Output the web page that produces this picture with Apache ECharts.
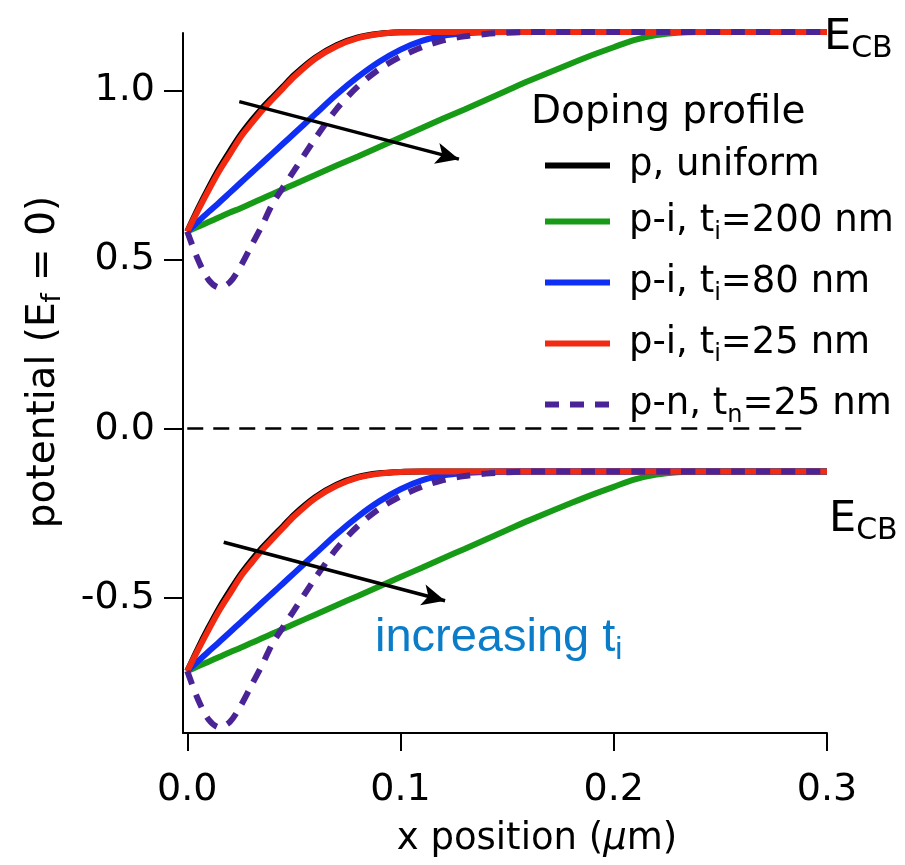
<!DOCTYPE html>
<html><head><meta charset="utf-8">
<script src="https://cdn.jsdelivr.net/npm/echarts@6/dist/echarts.min.js"></script>
<style>html,body{margin:0;padding:0;background:#fff}#c{width:905px;height:865px}</style>
</head><body><div id="c"></div>
<script>
// ---- data (x in µm, potential in eV) ----
const xPos = [0, 0.005, 0.01, 0.015, 0.02, 0.025, 0.03, 0.035, 0.04, 0.045, 0.05, 0.06, 0.07, 0.08, 0.09, 0.10,
              0.11, 0.12, 0.13, 0.14, 0.15, 0.16, 0.18, 0.19, 0.20, 0.21, 0.22, 0.23, 0.24, 0.26, 0.30];

const seriesNames = ['p, uniform', 'p-i, t_i=200 nm', 'p-i, t_i=80 nm', 'p-i, t_i=25 nm', 'p-n, t_n=25 nm'];

// upper family
const cbUniform = [0.583, 0.650, 0.712, 0.770, 0.821, 0.869, 0.910, 0.947, 0.980, 1.012, 1.045, 1.097, 1.134, 1.157, 1.168, 1.172,
                   1.173, 1.173, 1.173, 1.173, 1.173, 1.173, 1.173, 1.173, 1.173, 1.173, 1.173, 1.173, 1.173, 1.173, 1.173];
const cbPi200 = [0.583, 0.597, 0.611, 0.625, 0.639, 0.652, 0.666, 0.680, 0.694, 0.708, 0.722, 0.750, 0.778, 0.805, 0.833, 0.861,
                 0.889, 0.917, 0.944, 0.972, 1.000, 1.028, 1.080, 1.105, 1.128, 1.150, 1.164, 1.171, 1.173, 1.173, 1.173];
const cbPi80 = [0.583, 0.612, 0.641, 0.669, 0.698, 0.727, 0.756, 0.785, 0.814, 0.843, 0.872, 0.930, 0.988, 1.040, 1.085, 1.121,
                1.147, 1.162, 1.169, 1.172, 1.173, 1.173, 1.173, 1.173, 1.173, 1.173, 1.173, 1.173, 1.173, 1.173, 1.173];
const cbPi25 = [0.583, 0.645, 0.705, 0.762, 0.812, 0.862, 0.902, 0.940, 0.974, 1.007, 1.040, 1.094, 1.131, 1.155, 1.167, 1.172,
                1.173, 1.173, 1.173, 1.173, 1.173, 1.173, 1.173, 1.173, 1.173, 1.173, 1.173, 1.173, 1.173, 1.173, 1.173];
const cbPn25 = [0.583, 0.500, 0.440, 0.417, 0.433, 0.480, 0.540, 0.600, 0.665, 0.714, 0.762, 0.858, 0.945, 1.012, 1.063, 1.100,
                1.128, 1.148, 1.160, 1.167, 1.171, 1.173, 1.173, 1.173, 1.173, 1.173, 1.173, 1.173, 1.173, 1.173, 1.173];

// lower family
const lowUniform = [-0.717, -0.650, -0.588, -0.530, -0.479, -0.431, -0.390, -0.353, -0.320, -0.288, -0.255, -0.203, -0.166, -0.143, -0.132, -0.128,
                    -0.127, -0.127, -0.127, -0.127, -0.127, -0.127, -0.127, -0.127, -0.127, -0.127, -0.127, -0.127, -0.127, -0.127, -0.127];
const lowPi200 = [-0.717, -0.703, -0.689, -0.675, -0.661, -0.648, -0.634, -0.620, -0.606, -0.592, -0.578, -0.550, -0.522, -0.495, -0.467, -0.439,
                  -0.411, -0.383, -0.356, -0.328, -0.300, -0.272, -0.220, -0.195, -0.172, -0.150, -0.136, -0.129, -0.127, -0.127, -0.127];
const lowPi80 = [-0.717, -0.688, -0.659, -0.631, -0.602, -0.573, -0.544, -0.515, -0.486, -0.457, -0.428, -0.370, -0.312, -0.260, -0.215, -0.179,
                 -0.153, -0.138, -0.131, -0.128, -0.127, -0.127, -0.127, -0.127, -0.127, -0.127, -0.127, -0.127, -0.127, -0.127, -0.127];
const lowPi25 = [-0.717, -0.655, -0.595, -0.538, -0.488, -0.438, -0.398, -0.360, -0.326, -0.293, -0.260, -0.206, -0.169, -0.145, -0.133, -0.128,
                 -0.127, -0.127, -0.127, -0.127, -0.127, -0.127, -0.127, -0.127, -0.127, -0.127, -0.127, -0.127, -0.127, -0.127, -0.127];
const lowPn25 = [-0.717, -0.800, -0.860, -0.883, -0.867, -0.820, -0.760, -0.700, -0.635, -0.586, -0.538, -0.442, -0.355, -0.288, -0.237, -0.200,
                 -0.172, -0.152, -0.140, -0.133, -0.129, -0.127, -0.127, -0.127, -0.127, -0.127, -0.127, -0.127, -0.127, -0.127, -0.127];

const xTicks = [0, 0.1, 0.2, 0.3];
const yTicks = [-0.5, 0, 0.5, 1.0];

// annotation lines (data coordinates)
const fermiLevel = [[0, 0], [0.292, 0]];
const arrowUpper = [[0.0244, 0.967], [0.1274, 0.797]];
const arrowLower = [[0.0171, -0.336], [0.1209, -0.509]];

// ---- chart ----
const FONT = 'DejaVu Sans';
const colors = ['#000000', '#179b17', '#0f2ff5', '#f22a12', '#4a2496'];
const dashes = ['solid', 'solid', 'solid', 'solid', [14, 11]];
const upper = [cbUniform, cbPi200, cbPi80, cbPi25, cbPn25];
const lower = [lowUniform, lowPi200, lowPi80, lowPi25, lowPn25];

const pairs = ys => xPos.map((x, i) => [x, ys[i]]);

const series = [];
for (let k = 0; k < 5; k++) {
  [upper[k], lower[k]].forEach(ys => {
    series.push({
      type: 'line', name: seriesNames[k], data: pairs(ys),
      symbol: 'none', showSymbol: false, smooth: 0.3, clip: false,
      lineStyle: { color: colors[k], width: 6, type: dashes[k], cap: 'butt' },
      itemStyle: { color: colors[k] },
      emphasis: { disabled: true }, silent: true
    });
  });
}
const arrowStyle = { color: '#000', width: 3.5, type: 'solid' };
series[series.length - 1].markLine = {
  silent: true, animation: false, symbol: ['none', 'none'],
  label: { show: false }, emphasis: { disabled: true },
  data: [
    [{ coord: fermiLevel[0], lineStyle: { color: '#000', width: 2.5, type: [16, 10] } }, { coord: fermiLevel[1] }],
    [{ coord: arrowUpper[0], lineStyle: arrowStyle }, { coord: arrowUpper[1], symbol: 'arrow', symbolSize: [16, 23] }],
    [{ coord: arrowLower[0], lineStyle: arrowStyle }, { coord: arrowLower[1], symbol: 'arrow', symbolSize: [16, 23] }]
  ]
};

const legendFmt = name => {
  const m = name.match(/^(.*?t)_(\w)(.*)$/);
  if (!m) return '{sp| }{m|' + name + '}';
  return '{sp| }{m|' + m[1] + '}{s|' + m[2] + '}{m|' + m[3] + '}';
};

const chart = echarts.init(document.getElementById('c'), null, { renderer: 'canvas' });
chart.setOption({
  animation: false,
  backgroundColor: '#ffffff',
  grid: { left: 183, right: 78, top: 33, bottom: 132, containLabel: false },
  xAxis: {
    type: 'value', min: -0.002, max: 0.3,
    axisLine: { onZero: false, lineStyle: { color: '#000', width: 2 } },
    axisTick: { show: true, inside: false, length: 18, lineStyle: { color: '#000', width: 2 }, customValues: xTicks },
    axisLabel: { customValues: xTicks, formatter: v => v.toFixed(1), color: '#000', fontFamily: FONT, fontSize: 38, margin: 38 },
    splitLine: { show: false },
    name: '{m|x position (}{i|µ}{m|m)}', nameLocation: 'middle', nameGap: 88,
    nameTextStyle: { padding: [0, 0, 0, 64], rich: {
      m: { fontFamily: FONT, fontSize: 37, color: '#000' },
      i: { fontFamily: FONT, fontSize: 37, fontStyle: 'italic', color: '#000' } } }
  },
  yAxis: {
    type: 'value', min: -0.9, max: 1.17,
    axisLine: { onZero: false, lineStyle: { color: '#000', width: 2 } },
    axisTick: { show: true, inside: false, length: 19, lineStyle: { color: '#000', width: 2 }, customValues: yTicks },
    axisLabel: { customValues: yTicks, formatter: v => v.toFixed(1), color: '#000', fontFamily: FONT, fontSize: 38, margin: 28 },
    splitLine: { show: false },
    name: '{m|potential (E}{s|f}{m| = 0)}', nameLocation: 'middle', nameGap: 118,
    nameTextStyle: { padding: [0, 0, 0, 42], rich: {
      m: { fontFamily: FONT, fontSize: 39, color: '#000', lineHeight: 42 },
      s: { fontFamily: FONT, fontSize: 26, color: '#000', lineHeight: 24, padding: [18, 0, 0, 0] } } }
  },
  legend: {
    data: seriesNames, orient: 'vertical', left: 542, top: 147, padding: 0,
    itemWidth: 65, itemHeight: 44, itemGap: 14, selectedMode: false,
    lineStyle: { width: 6 },
    itemStyle: { opacity: 0, borderWidth: 0 },
    formatter: legendFmt,
    textStyle: { color: '#000', rich: {
      sp: { width: 14, fontSize: 37, lineHeight: 44 },
      m: { fontFamily: FONT, fontSize: 37, color: '#000', lineHeight: 44 },
      s: { fontFamily: FONT, fontSize: 24, color: '#000', lineHeight: 20, padding: [23, 0, 0, 0] } } }
  },
  graphic: [
    { type: 'text', x: 531, y: 113, silent: true,
      style: { text: 'Doping profile', font: '39px "DejaVu Sans"', fill: '#000', verticalAlign: 'middle' } },
    { type: 'text', x: 824, y: 38, silent: true,
      style: { text: '{e|E}{s|CB}', fill: '#000', verticalAlign: 'middle', rich: {
        e: { fontFamily: FONT, fontSize: 43, lineHeight: 46, fill: '#000' },
        s: { fontFamily: FONT, fontSize: 30, lineHeight: 22, padding: [22, 0, 0, 0], fill: '#000' } } } },
    { type: 'text', x: 829, y: 520, silent: true,
      style: { text: '{e|E}{s|CB}', fill: '#000', verticalAlign: 'middle', rich: {
        e: { fontFamily: FONT, fontSize: 43, lineHeight: 46, fill: '#000' },
        s: { fontFamily: FONT, fontSize: 30, lineHeight: 22, padding: [22, 0, 0, 0], fill: '#000' } } } },
    { type: 'text', x: 375, y: 638, silent: true,
      style: { text: '{m|increasing t}{s|i}', fill: '#0a7cc8', verticalAlign: 'middle', rich: {
        m: { fontFamily: 'Liberation Sans', fontSize: 47, lineHeight: 50, fill: '#0a7cc8' },
        s: { fontFamily: 'Liberation Sans', fontSize: 32, lineHeight: 26, padding: [24, 0, 0, 0], fill: '#0a7cc8' } } } }
  ],
  series: series
});
</script></body></html>
